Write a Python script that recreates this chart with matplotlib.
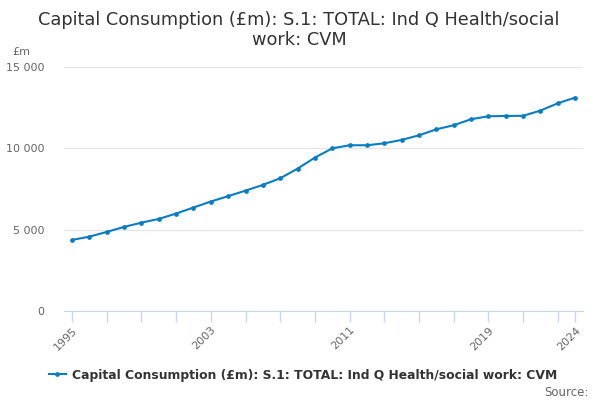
import matplotlib
matplotlib.use("Agg")
import matplotlib.pyplot as plt
from matplotlib.ticker import FuncFormatter, FixedLocator

years = list(range(1995, 2025))
values = [4370, 4570, 4860, 5170, 5430, 5660, 5990, 6360, 6730, 7060,
          7400, 7750, 8160, 8750, 9430, 10000, 10190, 10190, 10310, 10520,
          10800, 11170, 11420, 11790, 11970, 11990, 12000, 12320, 12770, 13120]
label_years = [1995, 2003, 2011, 2019, 2024]
tick_years = list(range(1995, 2024, 2)) + [2024]
yticks = [0, 5000, 10000, 15000]
series_name = "Capital Consumption (£m): S.1: TOTAL: Ind Q Health/social work: CVM"
title_lines = ["Capital Consumption (£m): S.1: TOTAL: Ind Q Health/social", "work: CVM"]

fig = plt.figure(figsize=(6, 4), dpi=100)
ax = fig.add_axes([64/600, 1-311/400, (583-64)/600, (311-67)/400])

color = "#0a7dc2"
line, = ax.plot(years, values, color=color, lw=1.5, marker="o", markersize=2.4, label=series_name)

ax.set_xlim(1995 - (72-64)/17.35, 1995 + (583-72)/17.35)
ax.set_ylim(0, 15000)
ax.yaxis.set_major_locator(FixedLocator(yticks))
ax.yaxis.set_major_formatter(FuncFormatter(lambda v, p: f"{int(v):,}".replace(",", " ")))
ax.grid(axis="y", color="#e6e6e6", lw=0.9)
ax.set_axisbelow(True)

ax.xaxis.set_major_locator(FixedLocator(label_years))
ax.xaxis.set_minor_locator(FixedLocator(tick_years))
ax.tick_params(axis="x", which="both", length=8, color="#ccd6eb", width=1)
ax.tick_params(axis="x", which="major", labelsize=8, labelcolor="#666666", pad=2)
ax.tick_params(axis="y", length=0, labelsize=8, labelcolor="#666666", pad=14)
for lbl in ax.get_xticklabels():
    lbl.set_rotation(45)
    lbl.set_ha("right")
    lbl.set_rotation_mode("anchor")

for s in ["top", "right", "left"]:
    ax.spines[s].set_visible(False)
ax.spines["bottom"].set_color("#ccd6eb")

fig.text(299/600, 1-25/400, title_lines[0], ha="center", va="baseline", fontsize=12.8, color="#333333")
fig.text(299/600, 1-45/400, title_lines[1], ha="center", va="baseline", fontsize=12.8, color="#333333")
fig.text(12/600, 1-52/400, "£m", ha="left", va="center", fontsize=8, color="#666666")

leg = fig.legend(handles=[line], loc="center", bbox_to_anchor=(303/600, 1-375/400), frameon=False,
                 prop={"size": 8.9, "weight": "bold"}, handlelength=1.4, handletextpad=0.5,
                 borderpad=0, borderaxespad=0)
for t in leg.get_texts():
    t.set_color("#333333")
fig.text(589/600, 1-392/400, "Source:", ha="right", va="center", fontsize=8.5, color="#666666")

fig.savefig("out.png", dpi=100)
